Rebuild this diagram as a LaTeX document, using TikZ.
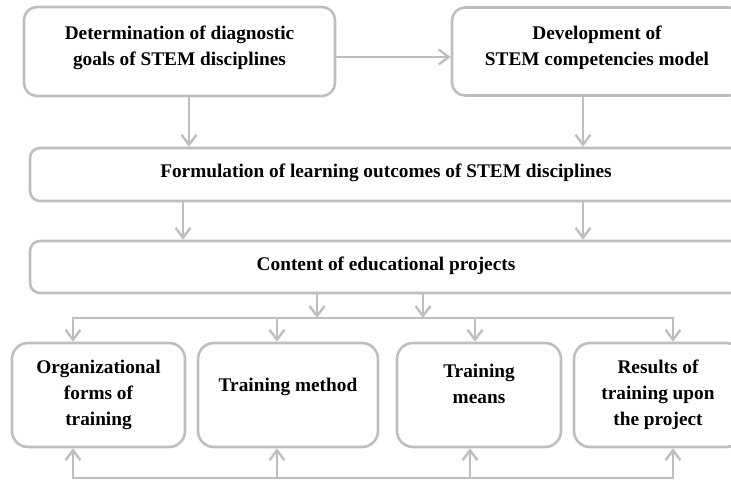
\documentclass[tikz,border=0pt]{standalone}
\usepackage{fontspec}
\setmainfont{Liberation Serif}
\usetikzlibrary{arrows.meta}

\definecolor{framegray}{RGB}{190,190,190}

\tikzset{
  box/.style={draw=framegray, line width=2.6pt, rounded corners=#1, align=center,
    inner sep=0pt, font=\fontsize{19.3}{26}\selectfont\bfseries},
  box/.default=13pt,
  link/.style={draw=framegray, line width=2.4pt,
    -{Straight Barb[length=10pt,width=15pt,line width=2.4pt]}},
  bus/.style={draw=framegray, line width=2.4pt, line cap=rect},
}

\begin{document}
\begin{tikzpicture}[x=1pt,y=-1pt]
    \useasboundingbox (0,0) rectangle (731,481);
    \clip (0,0) rectangle (731,481);
    %% Goals and competencies
    \node[box, minimum width=311pt, minimum height=89pt, text depth=12pt] (goals) at (179.5,51.5)
        {Determination of diagnostic\\goals of STEM disciplines};
    \node[box, minimum width=290pt, minimum height=88pt, text depth=12pt] (model) at (597,51.5)
        {Development of\\STEM competencies model};
    %% Outcomes and projects
    \node[box=10pt, minimum width=712pt, minimum height=53pt, text depth=8pt] (outcomes) at (386,174.5)
        {Formulation of learning outcomes of STEM disciplines};
    \node[box=10pt, minimum width=712pt, minimum height=52pt, text depth=6pt] (projects) at (386,267)
        {Content of educational projects};
    %% Training components
    \node[box=16pt, minimum width=173pt, minimum height=104pt] (orgforms) at (98.5,395)
        {Organizational\\forms of\\training};
    \node[box=16pt, minimum width=180pt, minimum height=104pt, text depth=20pt] (method) at (288,395)
        {Training method};
    \node[box=16pt, minimum width=164pt, minimum height=104pt, text depth=21.5pt] (means) at (479,395)
        {Training\\means};
    \node[box=16pt, minimum width=168pt, minimum height=104pt] (results) at (658,395)
        {Results of\\training upon\\the project};

    %% Arrows between the upper boxes
    \draw[link] (goals.east |- 0,57) -- (model.west |- 0,57);
    \draw[link] (189,0 |- goals.south) -- (189,0 |- outcomes.north);
    \draw[link] (583,0 |- model.south) -- (583,0 |- outcomes.north);
    \draw[link] (183,0 |- outcomes.south) -- (183,0 |- projects.north);
    \draw[link] (583,0 |- outcomes.south) -- (583,0 |- projects.north);

    %% Distribution to the components
    \coordinate (split) at (73,318);
    \coordinate (splitend) at (673,318);
    \draw[bus] (split) -- (splitend);
    \draw[link] (317,0 |- projects.south) -- (317,0 |- split);
    \draw[link] (423,0 |- projects.south) -- (423,0 |- split);
    \foreach \x/\part in {73/orgforms,277/method,475/means,673/results}
        \draw[link] (\x,0 |- split) -- (\x,0 |- \part.north);

    %% Feedback line
    \coordinate (loop) at (73,478);
    \coordinate (loopend) at (673,478);
    \draw[bus] (loop) -- (loopend);
    \foreach \x/\part in {73/orgforms,277/method,470/means,673/results}
        \draw[link] (\x,0 |- loop) -- (\x,0 |- \part.south);
\end{tikzpicture}
\end{document}
